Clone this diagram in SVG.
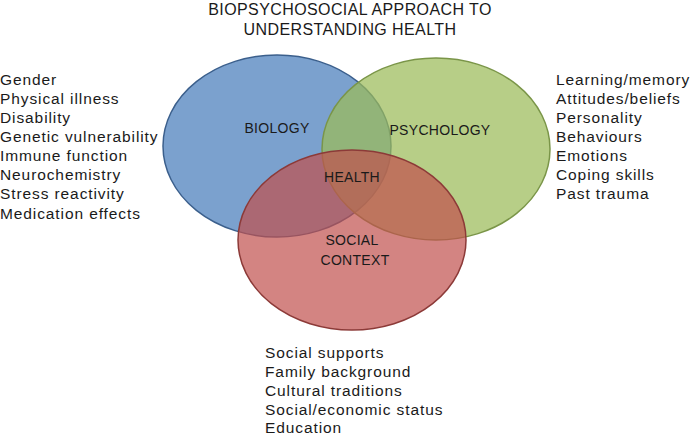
<svg xmlns="http://www.w3.org/2000/svg" width="694" height="437" viewBox="0 0 694 437">
<style>
text{font-family:"Liberation Sans",Arial,sans-serif;fill:#1a1a1a}
.t{font-size:16px;letter-spacing:0.4px;text-anchor:middle}
.lst{font-size:15.5px;letter-spacing:0.9px}
.lbl{font-size:14px;letter-spacing:0.3px;text-anchor:middle}
.e{stroke-width:1.5}
</style>
<rect width="694" height="437" fill="#ffffff"/>
<g id="title">
<text class="t" x="350" y="15">BIOPSYCHOSOCIAL APPROACH TO</text>
<text class="t" x="350" y="35">UNDERSTANDING HEALTH</text>
</g>
<g id="biology">
<ellipse class="e" cx="277" cy="146" rx="114" ry="91" fill="#4F81BD" fill-opacity="0.75" stroke="#3b5f8c"/>
</g>
<g id="psychology">
<ellipse class="e" cx="436" cy="149" rx="114" ry="91" fill="#9BBB59" fill-opacity="0.72" stroke="#7a9548"/>
</g>
<g id="social">
<ellipse class="e" cx="352" cy="240" rx="114" ry="90" fill="#C0504D" fill-opacity="0.7" stroke="#8c3a38"/>
</g>
<g id="labels">
<text class="lbl" x="277" y="133">BIOLOGY</text>
<text class="lbl" x="440" y="135">PSYCHOLOGY</text>
<text class="lbl" x="352" y="182">HEALTH</text>
<text class="lbl" x="352" y="245">SOCIAL</text>
<text class="lbl" x="355" y="265">CONTEXT</text>
</g>
<g id="biology-list" class="lst">
<text x="0" y="85">Gender</text>
<text x="0" y="104">Physical illness</text>
<text x="0" y="123">Disability</text>
<text x="0" y="142">Genetic vulnerability</text>
<text x="0" y="161">Immune function</text>
<text x="0" y="180">Neurochemistry</text>
<text x="0" y="199">Stress reactivity</text>
<text x="0" y="219">Medication effects</text>
</g>
<g id="psychology-list" class="lst">
<text x="556" y="85">Learning/memory</text>
<text x="556" y="104">Attitudes/beliefs</text>
<text x="556" y="123">Personality</text>
<text x="556" y="142">Behaviours</text>
<text x="556" y="161">Emotions</text>
<text x="556" y="180">Coping skills</text>
<text x="556" y="199">Past trauma</text>
</g>
<g id="social-list" class="lst">
<text x="265" y="358">Social supports</text>
<text x="265" y="377">Family background</text>
<text x="265" y="396">Cultural traditions</text>
<text x="265" y="415">Social/economic status</text>
<text x="265" y="433">Education</text>
</g>
<g id="connectors"></g>
</svg>
